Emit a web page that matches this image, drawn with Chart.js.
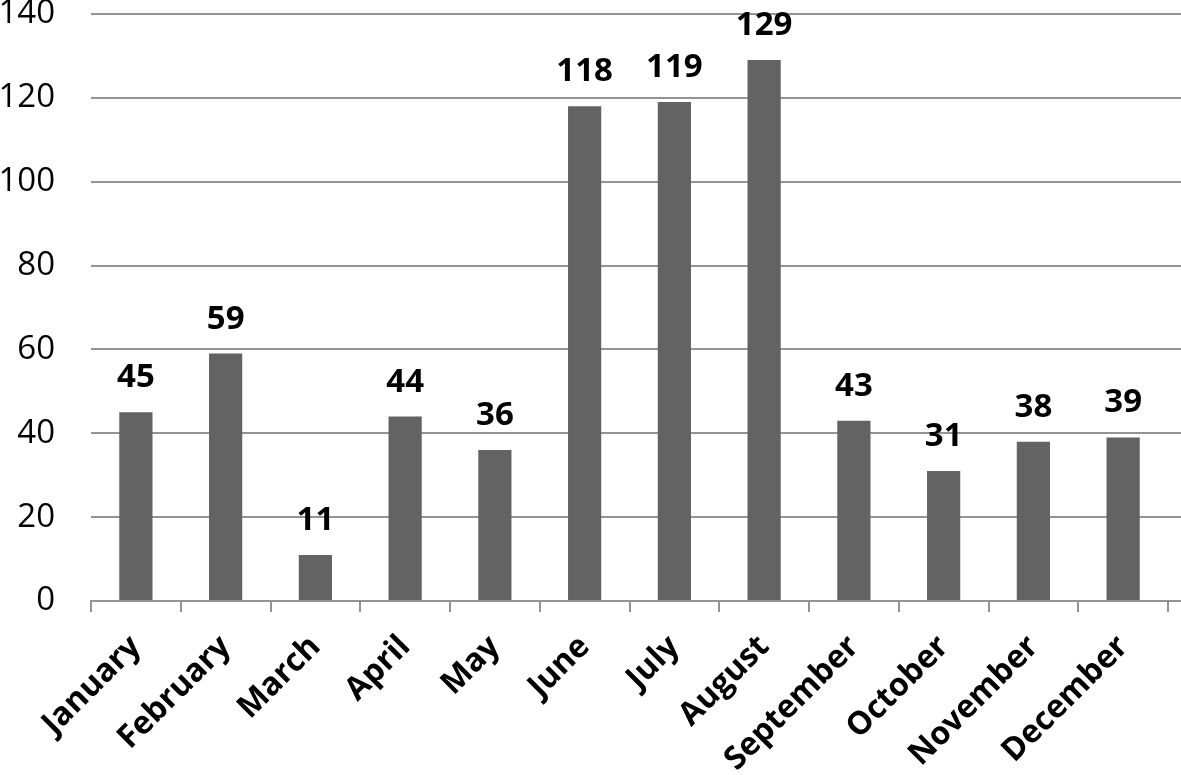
<!DOCTYPE html>
<html>
<head>
<meta charset="utf-8">
<script src="https://cdn.jsdelivr.net/npm/chart.js@4/dist/chart.umd.min.js"></script>
<style>
  html, body { margin: 0; padding: 0; background: #ffffff; }
  #wrap { width: 1181px; height: 775px; position: relative; }
</style>
</head>
<body>
<div id="wrap"><canvas id="c" width="1181" height="775"></canvas></div>
<script>
const categories = ["January", "February", "March", "April", "May", "June", "July", "August", "September", "October", "November", "December"];
const values = [45, 59, 11, 44, 36, 118, 119, 129, 43, 31, 38, 39];
const yTicks = [0, 20, 40, 60, 80, 100, 120, 140];

const GRID = '#949494';
const BAR = '#636363';
const FONT = '"Open Sans", "Liberation Sans", sans-serif';

const extendGrid = {
  id: 'extendGrid',
  beforeDatasetsDraw(chart) {
    const ctx = chart.ctx, ys = chart.scales.y, area = chart.chartArea;
    ctx.save();
    ctx.strokeStyle = GRID;
    ctx.lineWidth = 2;
    yTicks.forEach(v => {
      const py = Math.round(ys.getPixelForValue(v));
      ctx.beginPath();
      ctx.moveTo(area.right, py);
      ctx.lineTo(chart.width, py);
      ctx.stroke();
    });
    ctx.restore();
  }
};

const valueLabels = {
  id: 'valueLabels',
  afterDatasetsDraw(chart) {
    const ctx = chart.ctx;
    const meta = chart.getDatasetMeta(0);
    ctx.save();
    ctx.fillStyle = '#000000';
    ctx.font = 'bold 33px ' + FONT;
    ctx.textAlign = 'center';
    ctx.textBaseline = 'alphabetic';
    meta.data.forEach((bar, i) => {
      ctx.fillText(String(values[i]), bar.x, bar.y - 25);
    });
    ctx.restore();
  }
};

new Chart(document.getElementById('c'), {
  type: 'bar',
  data: {
    labels: categories,
    datasets: [{
      data: values,
      backgroundColor: BAR,
      borderWidth: 0,
      categoryPercentage: 1.0,
      barPercentage: 0.37
    }]
  },
  options: {
    responsive: false,
    animation: false,
    devicePixelRatio: 1,
    layout: { padding: { top: 14, right: 13, left: 0, bottom: 0 } },
    plugins: { legend: { display: false }, tooltip: { enabled: false } },
    scales: {
      x: {
        afterFit(scale) {
          scale.height = 174;
          scale.paddingLeft = 0; scale.paddingRight = 0;
        },
        grid: {
          offset: true,
          drawOnChartArea: true,
          color: ctx => (ctx.index === categories.length ? GRID : 'rgba(0,0,0,0)'),
          tickColor: GRID,
          lineWidth: 2,
          tickLength: 11,
          drawTicks: true
        },
        border: { display: true, color: GRID, width: 2 },
        ticks: {
          autoSkip: false,
          minRotation: 45,
          maxRotation: 45,
          padding: 16,
          color: '#000000',
          font: { family: FONT, size: 32, weight: 'bold' }
        }
      },
      y: {
        min: 0,
        max: 140,
        afterFit(scale) {
          scale.width = 91;
          scale.paddingTop = 0; scale.paddingBottom = 0;
        },
        afterBuildTicks(scale) { scale.ticks = yTicks.map(v => ({ value: v })); },
        grid: { color: GRID, lineWidth: 2, drawTicks: false },
        border: { display: false },
        ticks: {
          padding: 36,
          color: '#000000',
          font: { family: FONT, size: 33 }
        }
      }
    }
  },
  plugins: [extendGrid, valueLabels]
});
</script>
</body>
</html>
